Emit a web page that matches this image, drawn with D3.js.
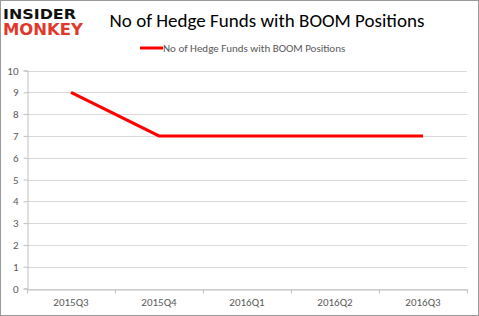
<!DOCTYPE html>
<html><head><meta charset="utf-8">
<script src="https://cdn.jsdelivr.net/npm/d3@7"></script>
<style>body{margin:0;background:#fff}svg{display:block}</style>
</head><body>
<svg id="c" width="479" height="316"></svg>
<script>
const categories = ["2015Q3","2015Q4","2016Q1","2016Q2","2016Q3"];
const values = [9,7,7,7,7];
const yTicks = [0,1,2,3,4,5,6,7,8,9,10];
const seriesName = "No of Hedge Funds with BOOM Positions";

const svg = d3.select("#c");
const W=479,H=316;
svg.append("rect").attr("x",0.5).attr("y",0.5).attr("width",W-1).attr("height",H-1).attr("fill","#fff").attr("stroke","#9a9a9a");

const m={l:27,r:467,t:70.5,b:288.5};
const x=d3.scaleBand().domain(categories).range([m.l,m.r]);
const y=d3.scaleLinear().domain([0,10]).range([m.b,m.t]);

// gridlines
svg.append("g").selectAll("line").data(yTicks).join("line")
  .attr("x1",m.l).attr("x2",m.r).attr("y1",d=>Math.round(y(d))+0.5).attr("y2",d=>Math.round(y(d))+0.5)
  .attr("stroke","#d9d9d9").attr("stroke-width",1);

// y axis
const ya=svg.append("g").attr("transform",`translate(${m.l+0.5},0)`)
  .call(d3.axisLeft(y).tickValues(yTicks).tickSize(4).tickPadding(5));
ya.select(".domain").attr("stroke","#bfbfbf");
ya.selectAll(".tick line").attr("stroke","#bfbfbf");
ya.selectAll(".tick text").attr("fill","#595959").style("font-family","Carlito, Calibri, 'Open Sans', sans-serif").style("font-size","11px");

// x axis
const xa=svg.append("g").attr("transform",`translate(0,${Math.round(y(0))+0.5})`)
  .call(d3.axisBottom(x).tickSize(0).tickPadding(9));
xa.select(".domain").attr("stroke","#bfbfbf");
xa.selectAll(".tick text").attr("fill","#595959").style("font-family","Carlito, Calibri, 'Open Sans', sans-serif").style("font-size","11px");
const bounds=categories.map(c=>x(c)).concat([m.r]);
xa.selectAll(".bt").data(bounds).join("line").attr("class","bt")
  .attr("x1",d=>Math.round(d)+0.5).attr("x2",d=>Math.round(d)+0.5).attr("y1",0).attr("y2",4).attr("stroke","#bfbfbf");

// line
const line=d3.line().x((d,i)=>x(categories[i])+x.bandwidth()/2).y(d=>y(d));
svg.append("path").datum(values).attr("d",line).attr("fill","none").attr("stroke","#ff0000").attr("stroke-width",3);

// title
svg.append("text").attr("x",267).attr("y",27).attr("text-anchor","middle")
  .style("font-family","Carlito, Calibri, 'Open Sans', sans-serif").style("font-size","19px").attr("fill","#000").text(seriesName);

// legend
svg.append("line").attr("x1",140).attr("x2",163).attr("y1",48).attr("y2",48).attr("stroke","#ff0000").attr("stroke-width",3);
svg.append("text").attr("x",163).attr("y",52).style("font-family","Carlito, Calibri, 'Open Sans', sans-serif").style("font-size","11px").attr("fill","#595959").text(seriesName);

// logo
svg.append("text").attr("x",3).attr("y",19).style("font-family","'DejaVu Sans', sans-serif").style("font-weight","bold").style("font-size","14px").attr("textLength",73).attr("lengthAdjust","spacingAndGlyphs").attr("fill","#111").text("INSIDER");
svg.append("text").attr("x",3).attr("y",35).style("font-family","'DejaVu Sans', sans-serif").style("font-weight","bold").style("font-size","15px").attr("textLength",80).attr("lengthAdjust","spacingAndGlyphs").attr("fill","#e0392b").text("MONKEY");
</script>
</body></html>
